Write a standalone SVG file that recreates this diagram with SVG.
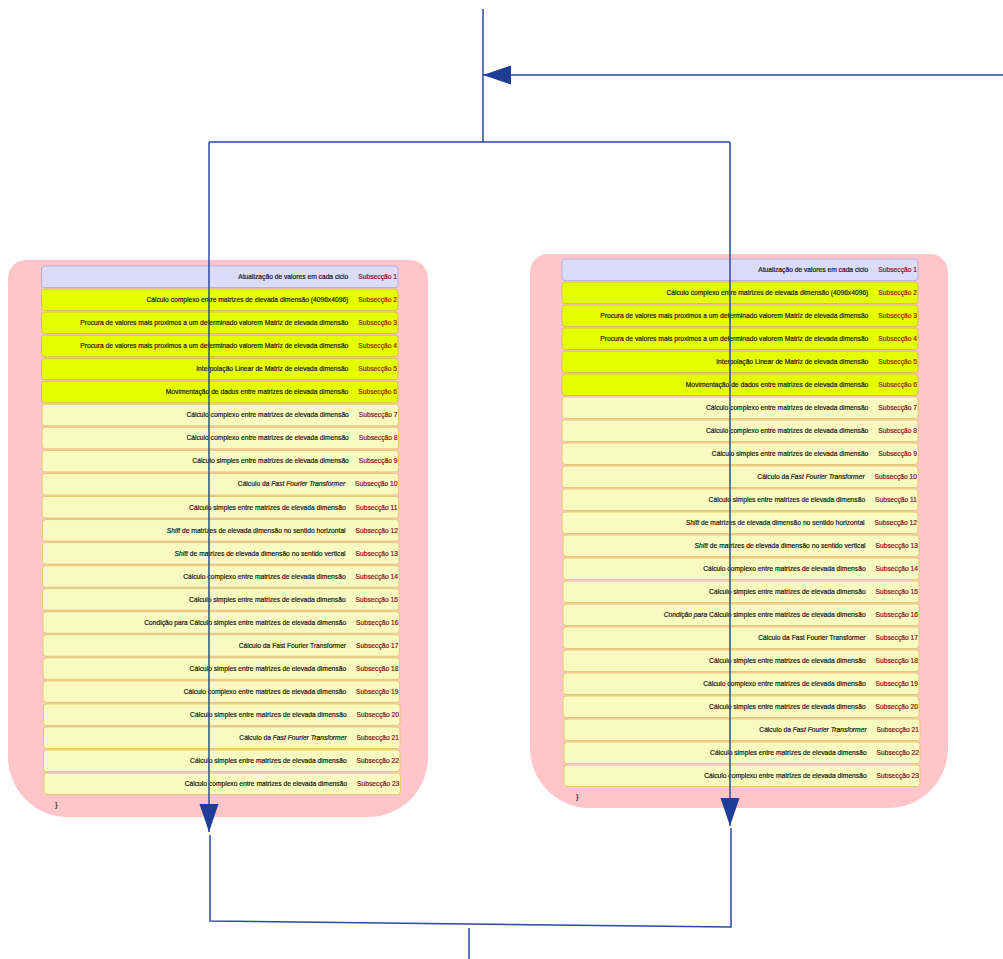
<svg xmlns="http://www.w3.org/2000/svg" width="1003" height="959" viewBox="0 0 1003 959">
<defs>
<marker id="ah" markerUnits="userSpaceOnUse" markerWidth="30" markerHeight="20" refX="28" refY="9.5" orient="auto">
<path d="M0,0 L28,9.5 L0,19 Z" fill="#1f3c96"/>
</marker>
<style>
.panel{fill:#ffc5c9}
.r1{fill:#dcdcf8;stroke:#b0b0e4;stroke-width:1}
.r2{fill:#e4ff00;stroke:#d8bc5c;stroke-width:1}
.r3{fill:#f8fac0;stroke:#e2cc70;stroke-width:1}
text{font-family:"Liberation Sans",Arial,sans-serif;font-size:6.7px;fill:#1a1a1a;stroke:#1a1a1a;stroke-width:0.2}
.s{fill:#8b1020;stroke:#8b1020}
.s2{fill:#9a2200;stroke:#9a2200}
.br{font-size:8px;fill:#333;stroke:#333}
.c{fill:none;stroke:#2a4aa0;stroke-width:1.5}
</style>
</defs>
<rect width="1003" height="959" fill="#ffffff"/>

<g id="panel-left">
<path class="panel" d="M26 260 H410 A18 18 0 0 1 428 278 V757 A60 60 0 0 1 368 817 H68 A60 60 0 0 1 8 757 V278 A18 18 0 0 1 26 260 Z"/>
<g id="L1"><rect class="r1" x="41.5" y="266" width="356.5" height="21.5" rx="3"/><text x="397" y="279" text-anchor="end">Atualização de valores em cada ciclo<tspan class="s" dx="10">Subsecção 1</tspan></text></g>
<g id="L2"><rect class="r2" x="41.5" y="289.05" width="356.5" height="21.5" rx="3"/><text x="397" y="302.05" text-anchor="end">Cálculo complexo entre matrizes de elevada dimensão (4096x4096)<tspan class="s2" dx="10">Subsecção 2</tspan></text></g>
<g id="L3"><rect class="r2" x="41.5" y="312.1" width="356.5" height="21.5" rx="3"/><text x="397" y="325.1" text-anchor="end">Procura de valores mais proximos a um determinado valorem Matriz de elevada dimensão<tspan class="s2" dx="10">Subsecção 3</tspan></text></g>
<g id="L4"><rect class="r2" x="41.5" y="335.15" width="356.5" height="21.5" rx="3"/><text x="397" y="348.15" text-anchor="end">Procura de valores mais proximos a um determinado valorem Matriz de elevada dimensão<tspan class="s2" dx="10">Subsecção 4</tspan></text></g>
<g id="L5"><rect class="r2" x="41.5" y="358.2" width="356.5" height="21.5" rx="3"/><text x="397" y="371.2" text-anchor="end">Interpolação Linear de Matriz de elevada dimensão<tspan class="s2" dx="10">Subsecção 5</tspan></text></g>
<g id="L6"><rect class="r2" x="41.5" y="381.25" width="356.5" height="21.5" rx="3"/><text x="397" y="394.25" text-anchor="end">Movimentação de dados entre matrizes de elevada dimensão<tspan class="s2" dx="10">Subsecção 6</tspan></text></g>
<g id="L7"><rect class="r3" x="42" y="404.3" width="356.5" height="21.5" rx="3"/><text x="397.5" y="417.3" text-anchor="end">Cálculo complexo entre matrizes de elevada dimensão<tspan class="s" dx="10">Subsecção 7</tspan></text></g>
<g id="L8"><rect class="r3" x="42" y="427.35" width="356.5" height="21.5" rx="3"/><text x="397.5" y="440.35" text-anchor="end">Cálculo complexo entre matrizes de elevada dimensão<tspan class="s" dx="10">Subsecção 8</tspan></text></g>
<g id="L9"><rect class="r3" x="42" y="450.4" width="356.5" height="21.5" rx="3"/><text x="397.5" y="463.4" text-anchor="end">Cálculo simples entre matrizes de elevada dimensão<tspan class="s" dx="10">Subsecção 9</tspan></text></g>
<g id="L10"><rect class="r3" x="42" y="473.45" width="356.5" height="21.5" rx="3"/><text x="397.5" y="486.45" text-anchor="end">Cálculo da <tspan font-style="italic">Fast Fourier Transformer</tspan><tspan class="s" dx="10">Subsecção 10</tspan></text></g>
<g id="L11"><rect class="r3" x="42" y="496.5" width="356.5" height="21.5" rx="3"/><text x="397.5" y="509.5" text-anchor="end">Cálculo simples entre matrizes de elevada dimensão<tspan class="s" dx="10">Subsecção 11</tspan></text></g>
<g id="L12"><rect class="r3" x="42.5" y="519.55" width="356.5" height="21.5" rx="3"/><text x="398" y="532.55" text-anchor="end"><tspan font-style="italic">Shift</tspan> de matrizes de elevada dimensão no sentido horizontal<tspan class="s" dx="10">Subsecção 12</tspan></text></g>
<g id="L13"><rect class="r3" x="42.5" y="542.6" width="356.5" height="21.5" rx="3"/><text x="398" y="555.6" text-anchor="end"><tspan font-style="italic">Shift</tspan> de matrizes de elevada dimensão no sentido vertical<tspan class="s" dx="10">Subsecção 13</tspan></text></g>
<g id="L14"><rect class="r3" x="42.5" y="565.65" width="356.5" height="21.5" rx="3"/><text x="398" y="578.65" text-anchor="end">Cálculo complexo entre matrizes de elevada dimensão<tspan class="s" dx="10">Subsecção 14</tspan></text></g>
<g id="L15"><rect class="r3" x="42.5" y="588.7" width="356.5" height="21.5" rx="3"/><text x="398" y="601.7" text-anchor="end">Cálculo simples entre matrizes de elevada dimensão<tspan class="s" dx="10">Subsecção 15</tspan></text></g>
<g id="L16"><rect class="r3" x="43" y="611.75" width="356.5" height="21.5" rx="3"/><text x="398.5" y="624.75" text-anchor="end">Condição para Cálculo simples entre matrizes de elevada dimensão<tspan class="s" dx="10">Subsecção 16</tspan></text></g>
<g id="L17"><rect class="r3" x="43" y="634.8" width="356.5" height="21.5" rx="3"/><text x="398.5" y="647.8" text-anchor="end">Cálculo da Fast Fourier Transformer<tspan class="s" dx="10">Subsecção 17</tspan></text></g>
<g id="L18"><rect class="r3" x="43" y="657.85" width="356.5" height="21.5" rx="3"/><text x="398.5" y="670.85" text-anchor="end">Cálculo simples entre matrizes de elevada dimensão<tspan class="s" dx="10">Subsecção 18</tspan></text></g>
<g id="L19"><rect class="r3" x="43" y="680.9" width="356.5" height="21.5" rx="3"/><text x="398.5" y="693.9" text-anchor="end">Cálculo complexo entre matrizes de elevada dimensão<tspan class="s" dx="10">Subsecção 19</tspan></text></g>
<g id="L20"><rect class="r3" x="43.5" y="703.95" width="356.5" height="21.5" rx="3"/><text x="399" y="716.95" text-anchor="end">Cálculo simples entre matrizes de elevada dimensão<tspan class="s" dx="10">Subsecção 20</tspan></text></g>
<g id="L21"><rect class="r3" x="43.5" y="727" width="356.5" height="21.5" rx="3"/><text x="399" y="740" text-anchor="end">Cálculo da <tspan font-style="italic">Fast Fourier Transformer</tspan><tspan class="s" dx="10">Subsecção 21</tspan></text></g>
<g id="L22"><rect class="r3" x="43.5" y="750.05" width="356.5" height="21.5" rx="3"/><text x="399" y="763.05" text-anchor="end">Cálculo simples entre matrizes de elevada dimensão<tspan class="s" dx="10">Subsecção 22</tspan></text></g>
<g id="L23"><rect class="r3" x="44" y="773.1" width="356.5" height="21.5" rx="3"/><text x="399.5" y="786.1" text-anchor="end">Cálculo complexo entre matrizes de elevada dimensão<tspan class="s" dx="10">Subsecção 23</tspan></text></g>
<text class="br" x="55" y="807">}</text>
</g>

<g id="panel-right">
<path class="panel" d="M548 254 H930 A18 18 0 0 1 948 272 V748 A60 60 0 0 1 888 808 H590 A60 60 0 0 1 530 748 V272 A18 18 0 0 1 548 254 Z"/>
<g id="R1"><rect class="r1" x="562" y="259" width="356" height="21.5" rx="3"/><text x="917" y="272" text-anchor="end">Atualização de valores em cada ciclo<tspan class="s" dx="10">Subsecção 1</tspan></text></g>
<g id="R2"><rect class="r2" x="562" y="282" width="356" height="21.5" rx="3"/><text x="917" y="295" text-anchor="end">Cálculo complexo entre matrizes de elevada dimensão (4096x4096)<tspan class="s2" dx="10">Subsecção 2</tspan></text></g>
<g id="R3"><rect class="r2" x="562" y="305" width="356" height="21.5" rx="3"/><text x="917" y="318" text-anchor="end">Procura de valores mais proximos a um determinado valorem Matriz de elevada dimensão<tspan class="s2" dx="10">Subsecção 3</tspan></text></g>
<g id="R4"><rect class="r2" x="562" y="328" width="356" height="21.5" rx="3"/><text x="917" y="341" text-anchor="end">Procura de valores mais proximos a um determinado valorem Matriz de elevada dimensão<tspan class="s2" dx="10">Subsecção 4</tspan></text></g>
<g id="R5"><rect class="r2" x="562" y="351" width="356" height="21.5" rx="3"/><text x="917" y="364" text-anchor="end">Interpolação Linear de Matriz de elevada dimensão<tspan class="s2" dx="10">Subsecção 5</tspan></text></g>
<g id="R6"><rect class="r2" x="562" y="374" width="356" height="21.5" rx="3"/><text x="917" y="387" text-anchor="end">Movimentação de dados entre matrizes de elevada dimensão<tspan class="s2" dx="10">Subsecção 6</tspan></text></g>
<g id="R7"><rect class="r3" x="562" y="397" width="356" height="21.5" rx="3"/><text x="917" y="410" text-anchor="end">Cálculo complexo entre matrizes de elevada dimensão<tspan class="s" dx="10">Subsecção 7</tspan></text></g>
<g id="R8"><rect class="r3" x="562" y="420" width="356" height="21.5" rx="3"/><text x="917" y="433" text-anchor="end">Cálculo complexo entre matrizes de elevada dimensão<tspan class="s" dx="10">Subsecção 8</tspan></text></g>
<g id="R9"><rect class="r3" x="562" y="443" width="356" height="21.5" rx="3"/><text x="917" y="456" text-anchor="end">Cálculo simples entre matrizes de elevada dimensão<tspan class="s" dx="10">Subsecção 9</tspan></text></g>
<g id="R10"><rect class="r3" x="562" y="466" width="356" height="21.5" rx="3"/><text x="917" y="479" text-anchor="end">Cálculo da <tspan font-style="italic">Fast Fourier Transformer</tspan><tspan class="s" dx="10">Subsecção 10</tspan></text></g>
<g id="R11"><rect class="r3" x="562" y="489" width="356" height="21.5" rx="3"/><text x="917" y="502" text-anchor="end">Cálculo simples entre matrizes de elevada dimensão<tspan class="s" dx="10">Subsecção 11</tspan></text></g>
<g id="R12"><rect class="r3" x="562" y="512" width="356" height="21.5" rx="3"/><text x="917" y="525" text-anchor="end"><tspan font-style="italic">Shift</tspan> de matrizes de elevada dimensão no sentido horizontal<tspan class="s" dx="10">Subsecção 12</tspan></text></g>
<g id="R13"><rect class="r3" x="563" y="535" width="356" height="21.5" rx="3"/><text x="918" y="548" text-anchor="end"><tspan font-style="italic">Shift</tspan> de matrizes de elevada dimensão no sentido vertical<tspan class="s" dx="10">Subsecção 13</tspan></text></g>
<g id="R14"><rect class="r3" x="563" y="558" width="356" height="21.5" rx="3"/><text x="918" y="571" text-anchor="end">Cálculo complexo entre matrizes de elevada dimensão<tspan class="s" dx="10">Subsecção 14</tspan></text></g>
<g id="R15"><rect class="r3" x="563" y="581" width="356" height="21.5" rx="3"/><text x="918" y="594" text-anchor="end">Cálculo simples entre matrizes de elevada dimensão<tspan class="s" dx="10">Subsecção 15</tspan></text></g>
<g id="R16"><rect class="r3" x="563" y="604" width="356" height="21.5" rx="3"/><text x="918" y="617" text-anchor="end"><tspan font-style="italic">Condição para</tspan> Cálculo simples entre matrizes de elevada dimensão<tspan class="s" dx="10">Subsecção 16</tspan></text></g>
<g id="R17"><rect class="r3" x="563" y="627" width="356" height="21.5" rx="3"/><text x="918" y="640" text-anchor="end">Cálculo da Fast Fourier Transformer<tspan class="s" dx="10">Subsecção 17</tspan></text></g>
<g id="R18"><rect class="r3" x="563" y="650" width="356" height="21.5" rx="3"/><text x="918" y="663" text-anchor="end">Cálculo simples entre matrizes de elevada dimensão<tspan class="s" dx="10">Subsecção 18</tspan></text></g>
<g id="R19"><rect class="r3" x="563" y="673" width="356" height="21.5" rx="3"/><text x="918" y="686" text-anchor="end">Cálculo complexo entre matrizes de elevada dimensão<tspan class="s" dx="10">Subsecção 19</tspan></text></g>
<g id="R20"><rect class="r3" x="563" y="696" width="356" height="21.5" rx="3"/><text x="918" y="709" text-anchor="end">Cálculo simples entre matrizes de elevada dimensão<tspan class="s" dx="10">Subsecção 20</tspan></text></g>
<g id="R21"><rect class="r3" x="564" y="719" width="356" height="21.5" rx="3"/><text x="919" y="732" text-anchor="end">Cálculo da <tspan font-style="italic">Fast Fourier Transformer</tspan><tspan class="s" dx="10">Subsecção 21</tspan></text></g>
<g id="R22"><rect class="r3" x="564" y="742" width="356" height="21.5" rx="3"/><text x="919" y="755" text-anchor="end">Cálculo simples entre matrizes de elevada dimensão<tspan class="s" dx="10">Subsecção 22</tspan></text></g>
<g id="R23"><rect class="r3" x="564" y="765" width="356" height="21.5" rx="3"/><text x="919" y="778" text-anchor="end">Cálculo complexo entre matrizes de elevada dimensão<tspan class="s" dx="10">Subsecção 23</tspan></text></g>
<text class="br" x="576" y="799">}</text>
</g>

<g id="connectors">
<line class="c" x1="483" y1="9" x2="483" y2="142"/>
<line class="c" x1="1003" y1="75" x2="483" y2="75" marker-end="url(#ah)"/>
<line class="c" x1="209" y1="142" x2="730" y2="142"/>
<line class="c" x1="209" y1="142" x2="209" y2="832" marker-end="url(#ah)"/>
<line class="c" x1="730" y1="142" x2="730" y2="826" marker-end="url(#ah)"/>
<polyline class="c" points="210,835 210,921 731,927 731,828"/>
<line class="c" x1="469" y1="928" x2="469" y2="959"/>
</g>
</svg>
